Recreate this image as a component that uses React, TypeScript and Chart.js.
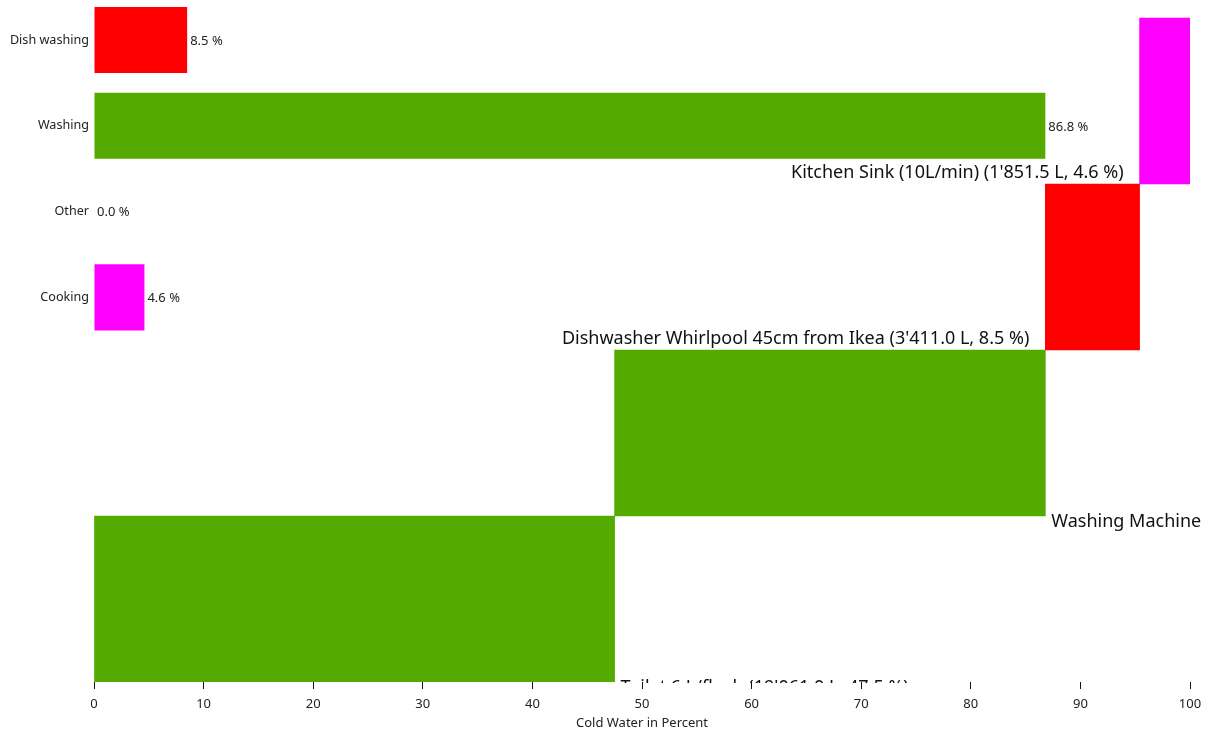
import React, { useEffect, useRef } from 'react';
import { Chart, registerables } from 'chart.js';

Chart.register(...registerables);

// Category breakdown (top rows)
const categories = ['Dish washing', 'Washing', 'Other', 'Cooking'];
const categoryValues = [8.5, 86.8, 0.0, 4.6];
const categoryColors = ['#FF0000', '#55AA00', '#55AA00', '#FF00FF'];

// Device waterfall
const deviceNames = [
  'Toilet 6 L/flush',
  'Washing Machine',
  'Dishwasher Whirlpool 45cm from Ikea',
  'Kitchen Sink (10L/min)',
];
const deviceLitres = ["19'061.0", "15'797.0", "3'411.0", "1'851.5"];
const devicePercents = [47.5, 39.3, 8.5, 4.6];
const deviceStart = [0, 47.5, 86.8, 95.4];
const deviceEnd = [47.5, 86.8, 95.4, 100];
const deviceColors = ['#55AA00', '#55AA00', '#FF0000', '#FF00FF'];

const xTitle = 'Cold Water in Percent';
const FONT = "'Noto Sans', 'Open Sans', sans-serif";

const labelPlugin = {
  id: 'labels',
  afterDatasetsDraw(chart: any) {
    const ctx = chart.ctx;
    const area = chart.chartArea;
    // category value labels
    const m0 = chart.getDatasetMeta(0);
    ctx.save();
    ctx.font = `13px ${FONT}`;
    ctx.fillStyle = '#222';
    ctx.textAlign = 'left';
    ctx.textBaseline = 'middle';
    m0.data.forEach((el: any, i: number) => {
      ctx.fillText(`${categoryValues[i].toFixed(1)} %`, el.x + 3, el.y + 1);
    });
    ctx.restore();

    // device labels
    const m1 = chart.getDatasetMeta(1);
    ctx.save();
    ctx.beginPath();
    ctx.rect(0, 0, chart.width - 10, area.bottom + 1);
    ctx.clip();
    ctx.font = `18px ${FONT}`;
    ctx.fillStyle = '#111';
    ctx.textBaseline = 'alphabetic';
    m1.data.forEach((el: any, i: number) => {
      const text = `${deviceNames[i]} (${deviceLitres[i]} L, ${devicePercents[i].toFixed(1)} %)`;
      const bottom = el.y + el.height / 2;
      const startPx = Math.min(el.x, el.base);
      const endPx = Math.max(el.x, el.base);
      if (i < 2) {
        ctx.textAlign = 'left';
        ctx.fillText(text, endPx + 6, bottom + 11);
      } else {
        ctx.textAlign = 'right';
        ctx.fillText(text, startPx - 16, bottom - 6);
      }
    });
    ctx.restore();
  },
};

export default function App() {
  const ref = useRef<HTMLCanvasElement | null>(null);

  useEffect(() => {
    if (!ref.current) return;
    const rowPx = 85.8;
    const firstCenterPx = 40;
    const plotH = 682;
    const devicePx = 166;
    const chart = new Chart(ref.current, {
      type: 'bar',
      data: {
        datasets: [
          {
            label: 'Categories',
            data: categoryValues.map((v, i) => ({ x: v, y: i })) as any,
            yAxisID: 'yc',
            backgroundColor: categoryColors,
            borderWidth: 0,
            barPercentage: 0.77,
            categoryPercentage: 1,
            grouped: false,
          },
          {
            label: 'Devices',
            data: deviceStart.map((s, i) => ({ x: [s, deviceEnd[i]], y: i })) as any,
            yAxisID: 'yw',
            backgroundColor: deviceColors,
            borderWidth: 0,
            barPercentage: 1,
            categoryPercentage: 1,
            grouped: false,
          },
        ],
      },
      options: {
        indexAxis: 'y',
        animation: false,
        responsive: true,
        maintainAspectRatio: false,
        layout: { padding: { left: 0, right: 21, top: 0, bottom: 0 } },
        plugins: { legend: { display: false }, tooltip: { enabled: false } },
        scales: {
          x: {
            type: 'linear',
            position: 'bottom',
            min: 0,
            max: 100,
            offset: false,
            grid: { drawOnChartArea: false, drawTicks: true, tickLength: 7, color: '#111', offset: false },
            border: { display: false },
            ticks: { stepSize: 10, padding: 7, color: '#222', font: { family: FONT, size: 13 } },
            title: {
              display: true,
              text: xTitle,
              color: '#222',
              font: { family: FONT, size: 13 },
              padding: { top: 0, bottom: 3 },
            },
            afterFit: (s: any) => {
              s.height = 52;
              s.paddingLeft = 0;
              s.paddingRight = 0;
            },
          },
          yc: {
            type: 'linear',
            position: 'left',
            reverse: true,
            offset: false,
            min: -firstCenterPx / rowPx,
            max: (plotH - firstCenterPx) / rowPx,
            grid: { display: false, drawTicks: false, offset: false },
            border: { display: false },
            afterBuildTicks: (s: any) => {
              s.ticks = categories.map((_, i) => ({ value: i }));
            },
            ticks: {
              padding: 5,
              color: '#222',
              font: { family: FONT, size: 12.6 },
              callback: (v: any) => categories[v as number] ?? '',
            },
            afterFit: (s: any) => {
              s.width = 94;
              s.paddingTop = 0;
              s.paddingBottom = 0;
            },
          },
          yw: {
            type: 'linear',
            display: false,
            offset: false,
            grid: { offset: false },
            min: -0.5,
            max: -0.5 + plotH / devicePx,
            afterBuildTicks: (s: any) => {
              s.ticks = deviceNames.map((_, i) => ({ value: i }));
            },
          },
        },
      } as any,
      plugins: [labelPlugin],
    });
    return () => chart.destroy();
  }, []);

  return (
    <div style={{ position: 'fixed', left: 0, top: 0, width: 1211, height: 734, background: '#fff' }}>
      <canvas ref={ref} />
    </div>
  );
}
